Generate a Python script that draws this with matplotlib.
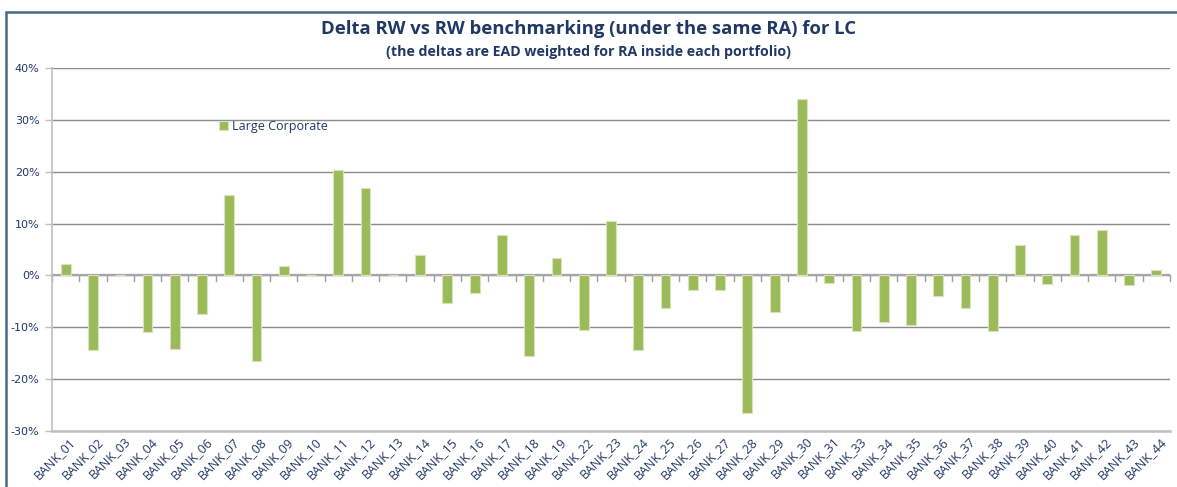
import matplotlib
matplotlib.use("Agg")
import matplotlib.pyplot as plt
from matplotlib.patches import Rectangle
from matplotlib.ticker import FuncFormatter
import matplotlib.transforms as mtransforms
import numpy as np

banks = ["BANK_01", "BANK_02", "BANK_03", "BANK_04", "BANK_05", "BANK_06", "BANK_07",
         "BANK_08", "BANK_09", "BANK_10", "BANK_11", "BANK_12", "BANK_13", "BANK_14",
         "BANK_15", "BANK_16", "BANK_17", "BANK_18", "BANK_19", "BANK_22", "BANK_23",
         "BANK_24", "BANK_25", "BANK_26", "BANK_27", "BANK_28", "BANK_29", "BANK_30",
         "BANK_31", "BANK_33", "BANK_34", "BANK_35", "BANK_36", "BANK_37", "BANK_38",
         "BANK_39", "BANK_40", "BANK_41", "BANK_42", "BANK_43", "BANK_44"]
large_corporate = [2.3, -14.3, 0.0, -11.0, -14.1, -7.4, 15.5,
                   -16.5, 1.9, 0.0, 20.3, 16.8, 0.0, 4.0,
                   -5.4, -3.3, 7.8, -15.5, 3.3, -10.5, 10.4,
                   -14.4, -6.3, -2.8, -2.9, -26.5, -7.1, 34.0,
                   -1.5, -10.8, -8.9, -9.6, -3.9, -6.2, -10.8,
                   5.8, -1.7, 7.7, 8.8, -1.8, 1.0]
yticks = [-30, -20, -10, 0, 10, 20, 30, 40]

navy = "#1F3864"
green = "#9BBB59"
grid = "#8C8C8C"

fig = plt.figure(figsize=(11.77, 4.87), dpi=100)
W, H = 1177, 487
ax = fig.add_axes([52 / W, 1 - 431 / H, (1170 - 52) / W, (431 - 68) / H])

x = np.arange(len(banks))
ax.bar(x, large_corporate, width=0.36, color=green, edgecolor="#D7E4BD",
       linewidth=0.8, label="Large Corporate", zorder=3)

ax.set_xlim(-0.5, len(banks) - 0.5)
ax.set_ylim(-30, 40)
ax.set_yticks(yticks)
ax.yaxis.set_major_formatter(FuncFormatter(lambda v, p: f"{int(v)}%"))
ax.grid(axis="y", color=grid, linewidth=1.0, zorder=0)
ax.set_axisbelow(True)

for s in ["top", "right"]:
    ax.spines[s].set_visible(False)
ax.spines["left"].set_color("#BFBFBF")
ax.spines["left"].set_linewidth(1.2)
ax.spines["bottom"].set_color("#BFBFBF")
ax.spines["bottom"].set_linewidth(1.8)

ax.tick_params(axis="y", colors="#BFBFBF", labelcolor="#1F3864", labelsize=8,
               length=5, width=1, pad=4)
ax.set_xticks(x)
ax.set_xticklabels(banks, rotation=45, ha="right", va="center",
                   rotation_mode="anchor", color=navy, fontsize=9,
                   family="Open Sans")
ax.tick_params(axis="x", length=0, pad=6)
offset = mtransforms.ScaledTranslation(8 / 100, 0, fig.dpi_scale_trans)
for lab in ax.get_xticklabels():
    lab.set_transform(lab.get_transform() + offset)

# category boundary ticks along the zero line
bounds = np.arange(len(banks) + 1) - 0.5
for b in bounds:
    ax.plot([b, b], [0, -1.1], color="#A0A0A0", linewidth=1, zorder=2,
            clip_on=False)
ax.axhline(0, color="#A6A6A6", linewidth=1.6, zorder=2)

leg = ax.legend(loc="upper left", bbox_to_anchor=(0.145, 0.87), frameon=False,
                fontsize=9, handlelength=0.7, handleheight=0.7,
                handletextpad=0.3, borderaxespad=0)
for t in leg.get_texts():
    t.set_color(navy)
    t.set_family("Open Sans")

fig.text(0.5, 1 - 29 / H, "Delta RW vs RW benchmarking (under the same RA) for LC",
         ha="center", va="center", fontsize=13.3, fontweight="bold", color=navy,
         family="Open Sans")
fig.text(0.5, 1 - 52 / H, "(the deltas are EAD weighted for RA inside each portfolio)",
         ha="center", va="center", fontsize=10.2, fontweight="bold", color=navy,
         family="Open Sans")

# outer frame
fig.patches.append(Rectangle((6 / W, -0.05), 1.2, 1 - 12 / H + 0.05,
                             transform=fig.transFigure, fill=False,
                             edgecolor="#4A6A8A", linewidth=1.8))

fig.savefig("out.png", dpi=100)
